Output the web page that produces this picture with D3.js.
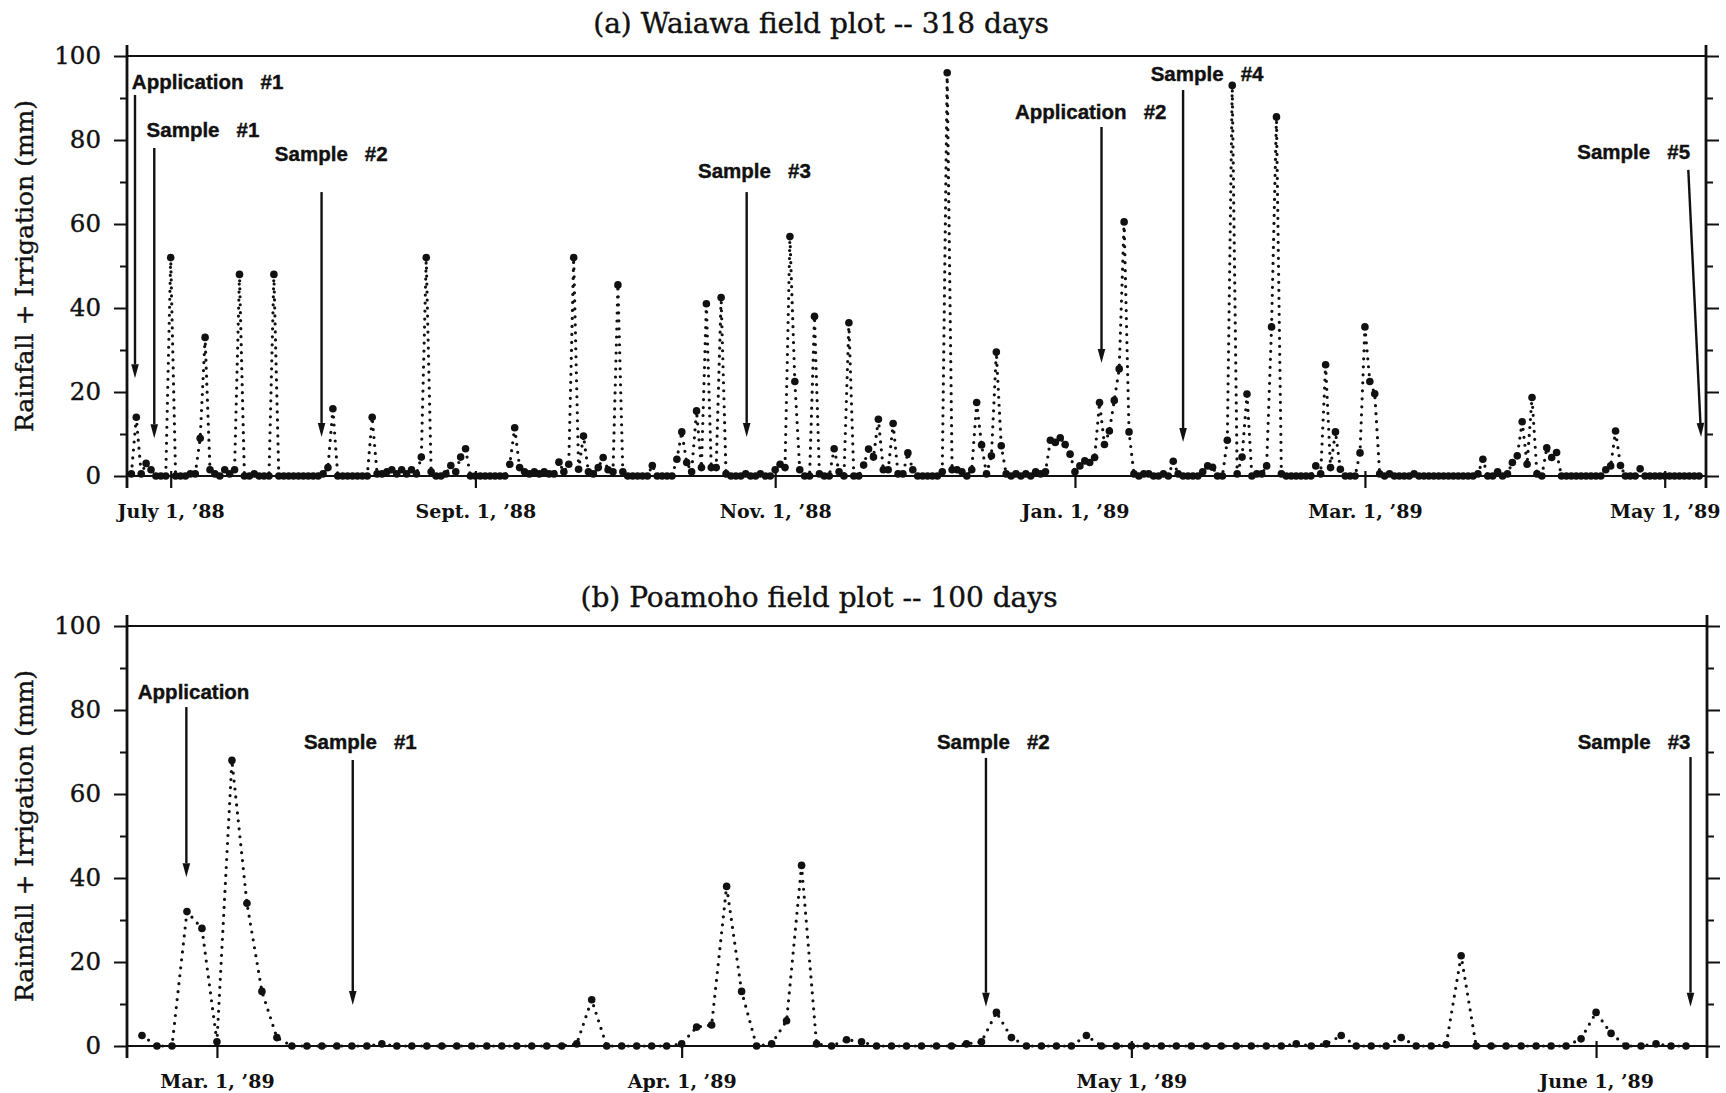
<!DOCTYPE html>
<html>
<head>
<meta charset="utf-8">
<script src="https://cdn.jsdelivr.net/npm/d3@7"></script>
<style>
  body { margin: 0; background: #fff; }
  svg { display: block; }
</style>
</head>
<body>
<svg id="chart" width="1726" height="1093"></svg>
<script>
// ---------------- DATA ----------------
// (a) Waiawa: daily rainfall + irrigation (mm), starting 1988-06-23
const waiawaStart = "1988-06-23";
const waiawaRain = [
  0.5, 14, 0.5, 3, 1.5, 0, 0, 0, 52, 0,          // Jun 23 - Jul 2
  0, 0, 0.5, 0.5, 9, 33, 1.5, 0.5, 0, 1.5,       // Jul 3 - Jul 12
  0.5, 1.5, 48, 0, 0, 0.5, 0, 0, 0, 48,          // Jul 13 - Jul 22
  0, 0, 0, 0, 0, 0, 0, 0, 0, 0.5,                // Jul 23 - Aug 1
  2, 16, 0, 0, 0, 0, 0, 0, 0, 14,                // Aug 2 - Aug 11
  0.5, 0.5, 1, 1.5, 0.5, 1.5, 0.5, 1.5, 0.5, 4.5,// Aug 12 - Aug 21
  52, 1, 0, 0, 0.5, 2.5, 1, 4.5, 6.5, 0,         // Aug 22 - Aug 31
  0, 0, 0, 0, 0, 0, 0, 2.8, 11.5, 2,             // Sep 1 - Sep 10
  1, 0.5, 1, 0.5, 1, 0.5, 0.5, 3.3, 1, 2.8,      // Sep 11 - Sep 20
  52, 1.6, 9.5, 1, 0.5, 2, 4.4, 1.5, 1, 45.5,    // Sep 21 - Sep 30
  1, 0, 0, 0, 0, 0, 2.5, 0, 0, 0,                // Oct 1 - Oct 10
  0, 4, 10.5, 3.2, 1, 15.5, 2, 41, 2, 2,         // Oct 11 - Oct 20
  42.5, 0.5, 0, 0, 0, 0.5, 0, 0, 0.5, 0,         // Oct 21 - Oct 30
  0, 1.5, 2.8, 2, 57, 22.5, 1.5, 0, 0, 38,       // Oct 31 - Nov 9
  0.5, 0, 0, 6.5, 1, 0, 36.5, 0, 0, 2.6,         // Nov 10 - Nov 19
  6.4, 4.5, 13.5, 1.5, 1.5, 12.5, 0.5, 0.5, 5.5, 1.5, // Nov 20 - Nov 29
  0, 0, 0, 0, 0, 1, 96, 1.5, 1.5, 1,             // Nov 30 - Dec 9
  0, 1.5, 17.5, 7.4, 0.5, 4.8, 29.5, 7.2, 0.5, 0,// Dec 10 - Dec 19
  0.5, 0, 0.5, 0, 1, 0.5, 1, 8.5, 8, 9.1,        // Dec 20 - Dec 29
  7.5, 5.2, 1, 2.4, 3.6, 3.2, 4.4, 17.5, 7.5, 10.7, // Dec 30 - Jan 8
  18, 25.5, 60.5, 10.5, 0.5, 0, 0.5, 0.5, 0, 0,  // Jan 9 - Jan 18
  0.5, 0, 3.5, 0.5, 0, 0, 0, 0, 1, 2.4,          // Jan 19 - Jan 28
  2.1, 0, 0, 8.5, 93, 0.5, 4.5, 19.5, 0, 0.5,    // Jan 29 - Feb 7
  0.5, 2.4, 35.5, 85.5, 0.5, 0, 0, 0, 0, 0,      // Feb 8 - Feb 17
  0, 2.4, 0.5, 26.5, 2, 10.5, 1.6, 0, 0, 0,      // Feb 18 - Feb 27
  5.5, 35.5, 22.5, 19.6, 0.5, 0, 0.5, 0, 0, 0,   // Feb 28 - Mar 9
  0, 0.5, 0, 0, 0, 0, 0, 0, 0, 0,                // Mar 10 - Mar 19
  0, 0, 0, 0, 0.5, 4, 0, 0, 1, 0,                // Mar 20 - Mar 29
  0.5, 3.2, 4.8, 12.9, 2.8, 18.7, 0.5, 0, 6.7, 4.4, // Mar 30 - Apr 8
  5.6, 0, 0, 0, 0, 0, 0, 0, 0, 0,                // Apr 9 - Apr 18
  1.5, 2.4, 10.7, 2.5, 0, 0, 0, 1.7, 0, 0,       // Apr 19 - Apr 28
  0, 0, 0, 0, 0, 0, 0, 0, 0, 0                   // Apr 29 - May 8
];

// (b) Poamoho: daily rainfall + irrigation (mm), starting 1989-02-24
const poamohoStart = "1989-02-24";
const poamohoRain = [
  2.5, 0, 0, 32, 28,                             // Feb 24 - Feb 28
  1, 68, 34, 13, 2, 0, 0, 0, 0, 0,               // Mar 1 - Mar 10
  0, 0.5, 0, 0, 0, 0, 0, 0, 0, 0,                // Mar 11 - Mar 20
  0, 0, 0, 0, 0.5, 11, 0, 0, 0, 0, 0,            // Mar 21 - Mar 31
  0.5, 4.5, 5, 38, 13, 0, 0.5, 6, 43, 0.5,       // Apr 1 - Apr 10
  0, 1.5, 1, 0, 0, 0, 0, 0, 0, 0.5,              // Apr 11 - Apr 20
  1, 8, 2, 0, 0, 0, 0, 2.5, 0, 0,                // Apr 21 - Apr 30
  0, 0, 0, 0, 0, 0, 0, 0, 0, 0,                  // May 1 - May 10
  0, 0.5, 0, 0.5, 2.5, 0, 0, 0, 2, 0,            // May 11 - May 20
  0, 0.3, 21.5, 0, 0, 0, 0, 0, 0, 0, 1.7,        // May 21 - May 31
  8, 3, 0, 0, 0.5, 0, 0                          // Jun 1 - Jun 7
];

const yMajorTicks = [0, 20, 40, 60, 80, 100];
const yMinorTicks = [10, 30, 50, 70, 90];

const waiawaTickDates  = ["1988-07-01", "1988-09-01", "1988-11-01", "1989-01-01", "1989-03-01", "1989-05-01"];
const waiawaTickLabels = ["July 1, ’88", "Sept. 1, ’88", "Nov. 1, ’88", "Jan. 1, ’89", "Mar. 1, ’89", "May 1, ’89"];
const poamohoTickDates  = ["1989-03-01", "1989-04-01", "1989-05-01", "1989-06-01"];
const poamohoTickLabels = ["Mar. 1, ’89", "Apr. 1, ’89", "May 1, ’89", "June 1, ’89"];

const waiawaDomain  = ["1988-06-22T02:40:00Z", "1989-05-09T09:36:00Z"];
const poamohoDomain = ["1989-02-23T00:00:00Z", "1989-06-08T09:36:00Z"];

// annotations: day offsets from reference date, heights in mm
const waiawaRef = "1988-07-01";
const waiawaNotes = [
  { label: "Application", num: "#1", textDay: -7.9,  textVal: 92.1, topDay: -7.26, topVal: 90.7, tipDay: -7.26, tipVal: 23.3 },
  { label: "Sample",      num: "#1", textDay: -4.9,  textVal: 80.6, topDay: -3.34, topVal: 78.1, tipDay: -3.34, tipVal: 9.0 },
  { label: "Sample",      num: "#2", textDay: 21.2,  textVal: 75.0, topDay: 30.7,  topVal: 67.6, tipDay: 30.7,  tipVal: 9.3 },
  { label: "Sample",      num: "#3", textDay: 107.3, textVal: 71.0, topDay: 117.2, topVal: 67.6, tipDay: 117.2, tipVal: 9.3 },
  { label: "Application", num: "#2", textDay: 171.8, textVal: 85.0, topDay: 189.4, topVal: 83.1, tipDay: 189.4, tipVal: 26.9 },
  { label: "Sample",      num: "#4", textDay: 199.4, textVal: 94.0, topDay: 206.0, topVal: 91.9, tipDay: 206.0, tipVal: 8.1 },
  { label: "Sample",      num: "#5", textDay: 286.2, textVal: 75.5, topDay: 308.8, topVal: 72.9, tipDay: 311.4, tipVal: 9.3 }
];
const poamohoRef = "1989-03-01";
const poamohoNotes = [
  { label: "Application", num: "",   textDay: -5.28, textVal: 82.7, topDay: -2.04, topVal: 80.7, tipDay: -2.04, tipVal: 40.2 },
  { label: "Sample",      num: "#1", textDay: 5.8,   textVal: 70.7, topDay: 9.06,  topVal: 68.1, tipDay: 9.06,  tipVal: 9.76 },
  { label: "Sample",      num: "#2", textDay: 48.03, textVal: 70.6, topDay: 51.3,  topVal: 68.6, tipDay: 51.3,  tipVal: 9.36 },
  { label: "Sample",      num: "#3", textDay: 90.77, textVal: 70.7, topDay: 98.3,  topVal: 68.8, tipDay: 98.3,  tipVal: 9.36 }
];

// ---------------- DRAWING ----------------
const parse = d3.utcParse("%Y-%m-%d");
const svg = d3.select("#chart");
svg.append("rect").attr("width", 1726).attr("height", 1093).attr("fill", "#fff");

const INK = "#111";
const SERIF = "'DejaVu Serif', 'Liberation Serif', serif";
const SANS = "'Liberation Sans', Arial, sans-serif";

const panels = [
  { title: "(a) Waiawa field plot -- 318 days", start: waiawaStart, values: waiawaRain,
    tickDates: waiawaTickDates, tickLabels: waiawaTickLabels, domain: waiawaDomain,
    ref: waiawaRef, notes: waiawaNotes, left: 127, right: 1706, top: 56, bottom: 476,
    titleX: 821, titleY: 33 },
  { title: "(b) Poamoho field plot -- 100 days", start: poamohoStart, values: poamohoRain,
    tickDates: poamohoTickDates, tickLabels: poamohoTickLabels, domain: poamohoDomain,
    ref: poamohoRef, notes: poamohoNotes, left: 127, right: 1707, top: 626, bottom: 1046,
    titleX: 819, titleY: 607 }
];

panels.forEach(p => {
  const x = d3.scaleUtc().domain(p.domain.map(s => new Date(s))).range([p.left, p.right]);
  const y = d3.scaleLinear().domain([0, 100]).range([p.bottom, p.top]);
  const g = svg.append("g");
  const startDate = parse(p.start);
  const data = p.values.map((v, i) => ({ date: d3.utcDay.offset(startDate, i), v }));
  const refDate = parse(p.ref);
  const dayToDate = d => new Date(+refDate + d * 864e5);

  // title
  g.append("text").attr("x", p.titleX).attr("y", p.titleY)
    .attr("text-anchor", "middle").attr("font-family", SERIF).attr("font-size", 28)
    .attr("fill", INK).attr("stroke", INK).attr("stroke-width", 0.4).text(p.title);

  // y axes (major + minor ticks, both sides)
  const axL = g.append("g").attr("transform", `translate(${p.left},0)`)
    .call(d3.axisLeft(y).tickValues(yMajorTicks).tickSize(13).tickPadding(13).tickFormat(d3.format("d")));
  const axLm = g.append("g").attr("transform", `translate(${p.left},0)`)
    .call(d3.axisLeft(y).tickValues(yMinorTicks).tickSize(7).tickFormat(""));
  const axR = g.append("g").attr("transform", `translate(${p.right},0)`)
    .call(d3.axisRight(y).tickValues(yMajorTicks).tickSize(13).tickFormat(""));
  const axRm = g.append("g").attr("transform", `translate(${p.right},0)`)
    .call(d3.axisRight(y).tickValues(yMinorTicks).tickSize(7).tickFormat(""));
  [axL, axLm, axR, axRm].forEach(a => {
    a.select(".domain").remove();
    a.selectAll("line").attr("stroke", INK).attr("stroke-width", 2);
  });
  axL.selectAll("text").attr("font-family", SERIF).attr("font-size", 24.5).attr("fill", INK)
    .attr("stroke", INK).attr("stroke-width", 0.4);

  // frame
  const frame = g.append("g").attr("stroke", INK).attr("stroke-width", 2.2).attr("fill", "none");
  frame.append("line").attr("x1", p.left).attr("x2", p.right).attr("y1", y(100)).attr("y2", y(100));
  frame.append("line").attr("x1", p.left).attr("x2", p.right).attr("y1", y(0)).attr("y2", y(0));
  frame.append("line").attr("x1", p.left).attr("x2", p.left).attr("y1", y(100) - 11).attr("y2", y(0) + 12).attr("stroke-width", 2.8);
  frame.append("line").attr("x1", p.right).attr("x2", p.right).attr("y1", y(100) - 11).attr("y2", y(0) + 12).attr("stroke-width", 2.8);

  // bottom date axis
  const tickDates = p.tickDates.map(parse);
  const axB = g.append("g").attr("transform", `translate(0,${p.bottom})`)
    .call(d3.axisBottom(x).tickValues(tickDates).tickSize(12)
      .tickFormat((d, i) => p.tickLabels[i]));
  axB.select(".domain").remove();
  axB.selectAll("line").attr("y1", -5).attr("stroke", INK).attr("stroke-width", 2.2);
  axB.selectAll("text").attr("y", 42).attr("dy", 0)
    .attr("font-family", SERIF).attr("font-size", 19).attr("font-weight", "bold").attr("fill", INK);

  // y-axis title
  g.append("text")
    .attr("transform", `translate(33,${(p.top + p.bottom) / 2}) rotate(-90)`)
    .attr("text-anchor", "middle").attr("font-family", SERIF).attr("font-size", 25)
    .attr("fill", INK).attr("stroke", INK).attr("stroke-width", 0.4).text("Rainfall + Irrigation (mm)");

  // dotted series line
  const line = d3.line().x(d => x(d.date)).y(d => y(d.v));
  g.append("path").datum(data).attr("d", line)
    .attr("fill", "none").attr("stroke", INK).attr("stroke-width", 3.2)
    .attr("stroke-linecap", "round").attr("stroke-dasharray", "0 8");

  // markers
  g.append("g").selectAll("circle").data(data).join("circle")
    .attr("cx", d => x(d.date)).attr("cy", d => y(d.v)).attr("r", 3.8).attr("fill", INK);

  // annotations
  const ng = g.append("g");
  p.notes.forEach(n => {
    ng.append("text")
      .attr("x", x(dayToDate(n.textDay))).attr("y", y(n.textVal))
      .attr("font-family", SANS).attr("font-weight", "bold").attr("font-size", 20.5)
      .attr("fill", INK).attr("stroke", INK).attr("stroke-width", 0.4)
      .text(n.num ? n.label + "\u00a0\u00a0\u00a0" + n.num : n.label);
    const x1 = x(dayToDate(n.topDay)), y1 = y(n.topVal);
    const x2 = x(dayToDate(n.tipDay)), y2 = y(n.tipVal);
    const len = Math.hypot(x2 - x1, y2 - y1);
    const ux = (x2 - x1) / len, uy = (y2 - y1) / len;
    const hl = 14, hw = 3.8;
    const bx = x2 - ux * hl, by = y2 - uy * hl;
    ng.append("line").attr("x1", x1).attr("y1", y1).attr("x2", bx).attr("y2", by)
      .attr("stroke", INK).attr("stroke-width", 2.4);
    ng.append("path")
      .attr("d", `M${x2},${y2}L${bx - uy * hw},${by + ux * hw}L${bx + uy * hw},${by - ux * hw}Z`)
      .attr("fill", INK);
  });
});
</script>
</body>
</html>
